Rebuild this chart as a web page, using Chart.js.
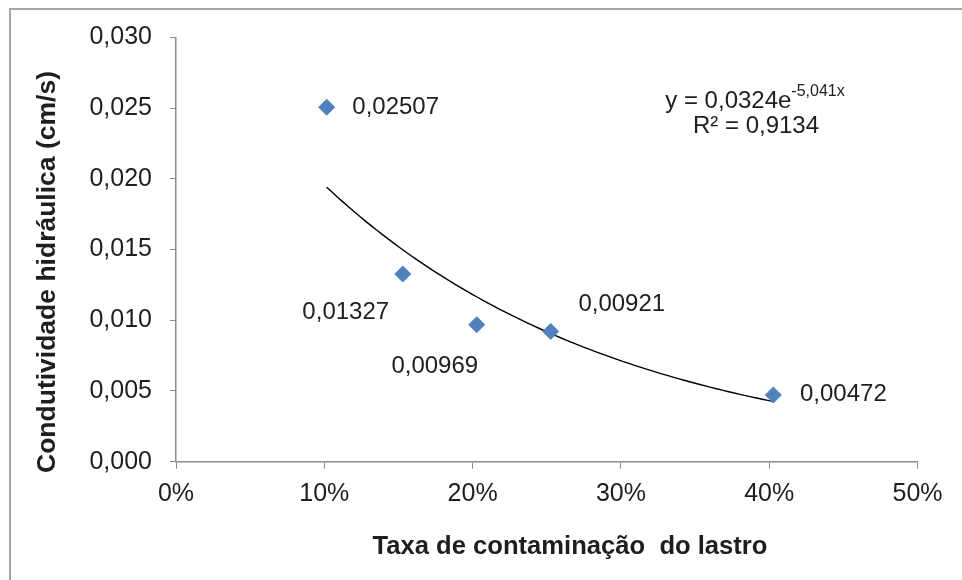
<!DOCTYPE html>
<html>
<head>
<meta charset="utf-8">
<script src="https://cdn.jsdelivr.net/npm/chart.js@4/dist/chart.umd.min.js"></script>
<style>
  html, body { margin: 0; padding: 0; background: #ffffff; }
  #wrap { width: 962px; height: 580px; position: relative; }
</style>
</head>
<body>
<div id="wrap"><canvas id="chart" width="962" height="580"></canvas></div>
<script>
// Contamination rate of the ballast (fraction) and measured hydraulic conductivity (cm/s)
const contamination = [0.1016, 0.1529, 0.2028, 0.2527, 0.4028];
const conductivity = [0.02507, 0.01327, 0.00969, 0.00921, 0.00472];
const pointLabels = ['0,02507', '0,01327', '0,00969', '0,00921', '0,00472'];

// Tick labels for both axes
const xTickLabels = ['0%', '10%', '20%', '30%', '40%', '50%'];
const yTickLabels = ['0,000', '0,005', '0,010', '0,015', '0,020', '0,025', '0,030'];

// Exponential trendline y = a·e^(b·x) and its fit quality
const trendA = 0.0324;
const trendB = -5.041;
const trendEquation = 'y = 0,0324e';
const trendExponent = '-5,041x';
const trendR2 = 'R² = 0,9134';

const xTitle = 'Taxa de contaminação  do lastro';
const yTitle = 'Condutividade hidráulica (cm/s)';

// Sample the fitted curve across the measured range
const trendPoints = [];
const xFirst = Math.min(...contamination);
const xLast = Math.max(...contamination);
const steps = 80;
for (let i = 0; i <= steps; i++) {
  const x = xFirst + (xLast - xFirst) * i / steps;
  trendPoints.push({ x: x, y: trendA * Math.exp(trendB * x) });
}

const FONT = "'Liberation Sans', Arial, sans-serif";
const TEXT = '#1e1e1e';
const AXIS = '#8c8c8c';

// Where each value label sits relative to its marker (px offsets of the label centre)
const labelOffsets = [
  { dx: 69, dy: 0 },
  { dx: -57, dy: 38 },
  { dx: -42, dy: 42 },
  { dx: 71, dy: -27 },
  { dx: 70, dy: -1 }
];

const decorations = {
  id: 'decorations',
  beforeDraw(chart) {
    const ctx = chart.ctx;
    ctx.save();
    ctx.fillStyle = '#ffffff';
    ctx.fillRect(0, 0, chart.width, chart.height);
    ctx.strokeStyle = '#a6a6a6';
    ctx.lineWidth = 2;
    ctx.strokeRect(10, 9, 1000, 1000);
    ctx.restore();
  },
  afterDraw(chart) {
    const ctx = chart.ctx;
    const xs = chart.scales.x;
    const ys = chart.scales.y;
    ctx.save();
    ctx.fillStyle = TEXT;

    // value labels next to the markers
    ctx.font = '24px ' + FONT;
    ctx.textAlign = 'center';
    ctx.textBaseline = 'middle';
    contamination.forEach((cx, i) => {
      const px = xs.getPixelForValue(cx);
      const py = ys.getPixelForValue(conductivity[i]);
      ctx.fillText(pointLabels[i], px + labelOffsets[i].dx, py + labelOffsets[i].dy);
    });

    // trendline equation
    ctx.textAlign = 'left';
    ctx.textBaseline = 'alphabetic';
    ctx.font = '24px ' + FONT;
    const w1 = ctx.measureText(trendEquation).width;
    ctx.font = '16px ' + FONT;
    const w2 = ctx.measureText(trendExponent).width;
    const eqLeft = 755 - (w1 + w2) / 2;
    ctx.font = '24px ' + FONT;
    ctx.fillText(trendEquation, eqLeft, 108);
    ctx.font = '16px ' + FONT;
    ctx.fillText(trendExponent, eqLeft + w1, 96);
    ctx.font = '24px ' + FONT;
    ctx.textAlign = 'center';
    ctx.fillText(trendR2, 756, 133);

    // axis titles
    ctx.textBaseline = 'middle';
    ctx.font = 'bold 25.6px ' + FONT;
    ctx.fillText(xTitle, 570, 547);
    ctx.font = 'bold 26.5px ' + FONT;
    ctx.translate(48, 272);
    ctx.rotate(-Math.PI / 2);
    ctx.fillText(yTitle, 0, 0);
    ctx.restore();
  }
};

new Chart(document.getElementById('chart'), {
  type: 'scatter',
  data: {
    datasets: [
      {
        label: 'Condutividade',
        data: contamination.map((x, i) => ({ x: x, y: conductivity[i] })),
        pointStyle: 'rectRot',
        pointRadius: 8,
        pointHoverRadius: 8,
        backgroundColor: '#4f81bd',
        borderColor: '#4f81bd',
        borderWidth: 1,
        order: 1
      },
      {
        label: 'Tendência',
        type: 'line',
        data: trendPoints,
        borderColor: '#000000',
        borderWidth: 1.4,
        pointRadius: 0,
        tension: 0,
        fill: false,
        order: 2
      }
    ]
  },
  options: {
    responsive: false,
    animation: false,
    events: [],
    layout: { padding: { left: 0, top: 37.5, right: 44.5, bottom: 0 } },
    plugins: {
      legend: { display: false },
      tooltip: { enabled: false }
    },
    scales: {
      x: {
        type: 'linear',
        min: 0,
        max: 0.5,
        afterFit(scale) { scale.height = 118.3; },
        afterBuildTicks(scale) {
          scale.ticks = xTickLabels.map((_, i) => ({ value: i * 0.1 }));
        },
        ticks: {
          callback: (v, i) => xTickLabels[i],
          font: { family: FONT, size: 25 },
          color: TEXT,
          padding: 10,
          maxRotation: 0,
          autoSkip: false
        },
        grid: {
          drawOnChartArea: false,
          drawTicks: true,
          tickLength: 7,
          color: AXIS
        },
        border: { color: AXIS, width: 1.5 }
      },
      y: {
        type: 'linear',
        min: 0,
        max: 0.03,
        afterFit(scale) { scale.width = 176; },
        afterBuildTicks(scale) {
          scale.ticks = yTickLabels.map((_, i) => ({ value: i * 0.005 }));
        },
        ticks: {
          callback: (v, i) => yTickLabels[i],
          font: { family: FONT, size: 25 },
          color: TEXT,
          padding: 18,
          autoSkip: false
        },
        grid: {
          drawOnChartArea: false,
          drawTicks: true,
          tickLength: 6,
          color: AXIS
        },
        border: { color: AXIS, width: 1.5 }
      }
    }
  },
  plugins: [decorations]
});
</script>
</body>
</html>
